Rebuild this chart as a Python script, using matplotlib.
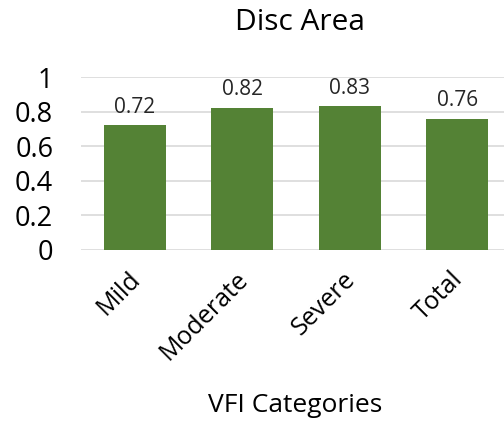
import numpy as np
import matplotlib.pyplot as plt
import matplotlib.transforms as mtransforms

categories = ['Mild', 'Moderate', 'Severe', 'Total']
values = [0.72, 0.82, 0.83, 0.76]
yticks = [0, 0.2, 0.4, 0.6, 0.8, 1]

plt.rcParams['font.family'] = ['Open Sans', 'DejaVu Sans']

fig = plt.figure(figsize=(5.04, 4.21), dpi=100)
# plot area runs past the right edge, like the cropped original
ax = fig.add_axes([81/504, (421-250)/421, 430/504, 173/421])

x = np.arange(len(categories))
bars = ax.bar(x, values, width=0.58, color='#548235', zorder=3)
for xi, v in zip(x, values):
    ax.text(xi, v + 0.045, '%.2f' % v, ha='center', va='bottom', fontsize=15, color='#262626')

ax.set_xlim(-0.5, len(categories) - 0.5)
ax.set_ylim(0, 1)
ax.set_yticks(yticks)
ax.set_yticklabels(['0', '0.2', '0.4', '0.6', '0.8', '1'], fontsize=19.5)
ax.grid(axis='y', color='#d9d9d9', linewidth=1.2, zorder=0)
ax.set_xticks(x)
ax.set_xticklabels(categories, rotation=45, ha='right', rotation_mode='anchor', fontsize=18)
ax.tick_params(length=0, pad=12)
ax.tick_params(axis='y', pad=20)
# nudge the slanted labels a little to the left
shift = mtransforms.ScaledTranslation(-7/100, 0, fig.dpi_scale_trans)
for lbl in ax.get_xticklabels():
    lbl.set_transform(lbl.get_transform() + shift)
for s in ax.spines.values():
    s.set_visible(False)

fig.text(300/504, 1 - 23/421, 'Disc Area', ha='center', va='center', fontsize=21.5)
fig.text(295/504, 1 - 405/421, 'VFI Categories', ha='center', va='center', fontsize=19)

plt.savefig('out.png', dpi=100)
